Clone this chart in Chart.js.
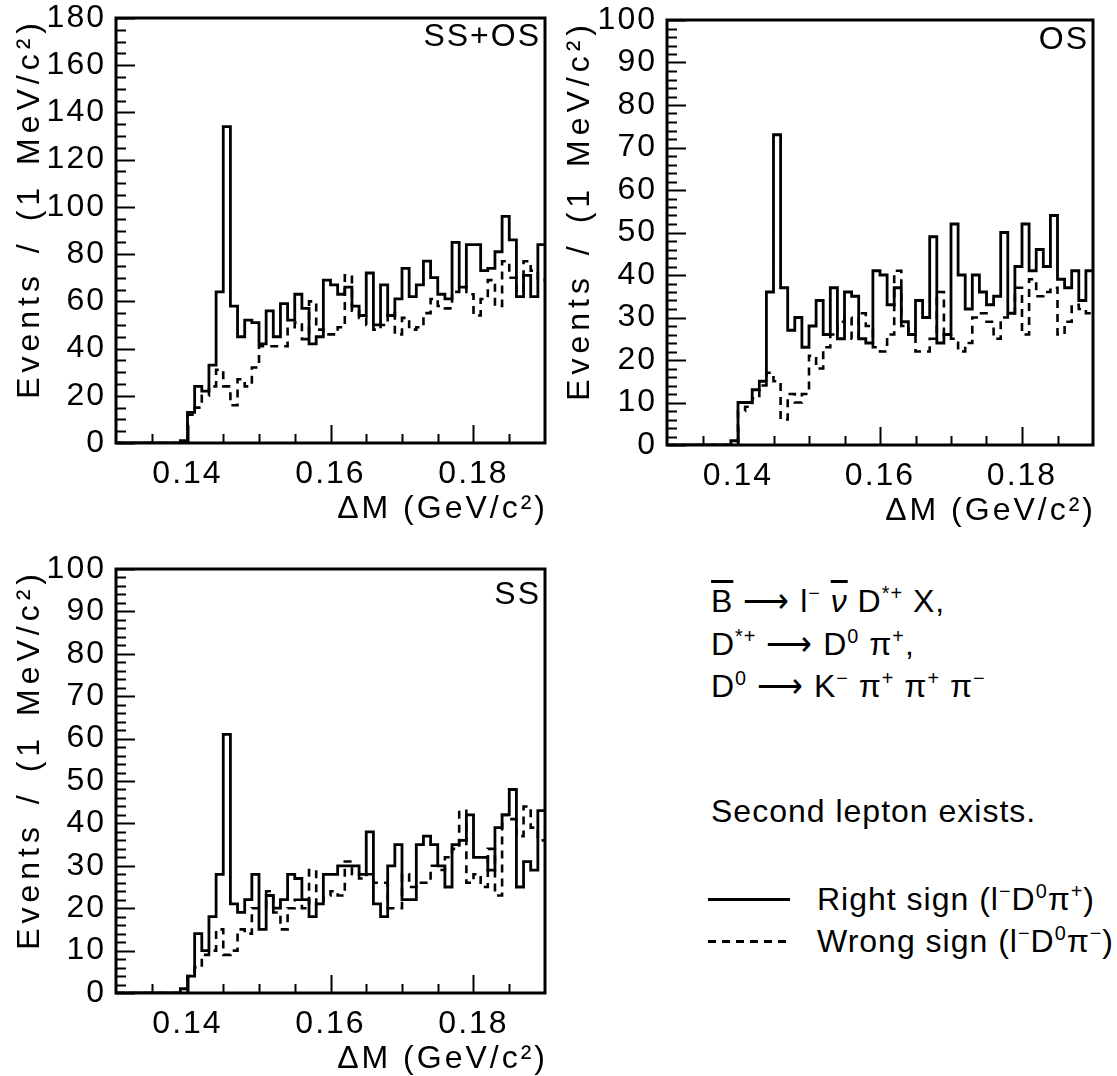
<!DOCTYPE html>
<html>
<head>
<meta charset="utf-8">
<script src="https://cdn.jsdelivr.net/npm/chart.js@4.4.1/dist/chart.umd.min.js"></script>
<style>
  body { margin: 0; background: #fff; width: 1117px; height: 1076px; position: relative; overflow: hidden;
         font-family: "Liberation Sans", Arial, sans-serif; }
  canvas { position: absolute; }
  .txt { position: absolute; font-size: 32px; line-height: 32px; color: #000; white-space: nowrap; letter-spacing: 1px; }
  .txt sup { font-size: 62%; line-height: 0; vertical-align: 0.6em; }
  .bar { text-decoration: overline; }
  .leg { position: absolute; height: 3px; width: 82px; left: 708px; }
</style>
</head>
<body>
<canvas id="c-all" width="560" height="540" style="left:0;top:0"></canvas>
<canvas id="c-os" width="560" height="540" style="left:550px;top:0"></canvas>
<canvas id="c-ss" width="560" height="530" style="left:0;top:550px"></canvas>

<div class="txt" style="left:711px;top:585px"><span class="bar">B</span> &#x27F6; l<sup>&minus;</sup> <i class="bar">&nu;</i> D<sup>*+</sup> X,</div>
<div class="txt" style="left:711px;top:628px">D<sup>*+</sup> &#x27F6; D<sup>0</sup> &pi;<sup>+</sup>,</div>
<div class="txt" style="left:711px;top:670px">D<sup>0</sup> &#x27F6; K<sup>&minus;</sup> &pi;<sup>+</sup> &pi;<sup>+</sup> &pi;<sup>&minus;</sup></div>
<div class="txt" style="left:711px;top:795px">Second lepton exists.</div>
<div class="leg" style="top:898px;background:#000"></div>
<div class="txt" style="left:817px;top:883px">Right sign (l<sup>&minus;</sup>D<sup>0</sup>&pi;<sup>+</sup>)</div>
<div class="leg" style="top:940px;background:repeating-linear-gradient(to right,#000 0 8px,transparent 8px 14px)"></div>
<div class="txt" style="left:817px;top:925px">Wrong sign (l<sup>&minus;</sup>D<sup>0</sup>&pi;<sup>&minus;</sup>)</div>

<script>
// 60 bins of 1 MeV/c^2 from 0.130 to 0.190 GeV/c^2
const xMin = 0.13, xMax = 0.19, binWidth = 0.001;
const xTickLabels = [0.14, 0.16, 0.18];

// SS+OS
const allRight = [0,0,0,0,0,0,0,0,0,1, 13,24,22,33,64,134,58,45,52,51, 42,56,45,59,52,63,57,42,45,69,
                  67,63,66,58,54,72,50,67,54,61, 74,62,67,77,70,63,61,85,66,84, 84,73,74,81,96,86,62,71,62,84];
const allWrong = [0,0,0,0,0,0,0,0,0,0, 12,15,20,24,31,24,16,27,24,32, 41,41,41,41,49,51,44,60,48,46,
                  46,49,71,56,53,50,48,50,55,46, 53,48,49,55,61,58,57,64,66,63, 54,61,69,58,77,70,64,77,73,69];
// OS
const osRight = [0,0,0,0,0,0,0,0,0,1, 10,10,13,15,36,73,37,27,30,23, 28,34,26,37,25,36,35,25,24,41,
                 40,33,37,29,26,34,30,49,24,26, 52,40,32,40,36,33,35,50,31,42, 52,41,46,42,54,39,37,41,34,41];
const osWrong = [0,0,0,0,0,0,0,0,0,0, 8,9,11,14,17,15,6,12,10,12, 21,18,23,26,29,30,25,31,28,23,
                 22,26,41,28,26,22,22,25,36,26, 25,22,24,30,31,29,25,30,31,37, 26,39,35,36,37,26,29,33,32,31];
// SS
const ssRight = [0,0,0,0,0,0,0,0,0,1, 4,14,10,18,28,61,21,19,22,28, 15,23,20,22,28,27,22,18,21,28,
                 28,30,30,30,28,38,21,18,30,35, 22,22,35,37,35,30,25,35,36,42, 32,32,29,39,42,48,25,31,29,43];
const ssWrong = [0,0,0,0,0,0,0,0,0,0, 4,6,9,10,15,9,10,15,14,20, 20,24,19,15,20,22,20,29,21,23,
                 24,23,31,28,27,28,26,26,20,20, 28,25,26,26,30,29,32,34,43,26, 28,25,34,23,42,41,37,44,39,36];

const allYTicks = [0, 20, 40, 60, 80, 100, 120, 140, 160, 180];
const sideYTicks = [0, 10, 20, 30, 40, 50, 60, 70, 80, 90, 100];

const xTitle = 'ΔM (GeV/c²)';
const yTitle = 'Events / (1 MeV/c²)';
const FONT = '32px "Liberation Sans", Arial, sans-serif';

Chart.defaults.font.family = '"Liberation Sans", Arial, sans-serif';
Chart.defaults.color = '#000';

function histPoints(counts) {
  const pts = counts.map((c, i) => ({ x: xMin + i * binWidth, y: c }));
  pts.push({ x: xMin + counts.length * binWidth, y: counts[counts.length - 1] });
  return pts;
}

// frame, inward tick marks, axis titles and panel tag
const frameTicks = {
  id: 'frameTicks',
  beforeDraw(chart) {
    chart.ctx.letterSpacing = '2px';
  },
  afterDraw(chart, args, opts) {
    const { ctx, chartArea: a, scales: { x, y } } = chart;
    ctx.save();
    ctx.strokeStyle = '#000';
    ctx.lineWidth = 2;
    ctx.beginPath();
    for (let v = 0; v <= opts.yMax + 1e-9; v += opts.yMinor) {
      const py = Math.round(y.getPixelForValue(v)) + 0.5;
      const major = Math.abs(v / opts.yMajor - Math.round(v / opts.yMajor)) < 1e-6;
      ctx.moveTo(a.left, py);
      ctx.lineTo(a.left + (major ? 19 : 10), py);
    }
    for (let i = 1; i < 12; i++) {
      const v = xMin + i * 0.005;
      const px = Math.round(x.getPixelForValue(v)) + 0.5;
      const major = i % 4 === 2;
      ctx.moveTo(px, a.bottom);
      ctx.lineTo(px, a.bottom - (major ? 18 : 9));
    }
    ctx.stroke();
    ctx.lineWidth = 3;
    ctx.strokeRect(a.left, a.top, a.right - a.left, a.bottom - a.top);

    ctx.fillStyle = '#000';
    ctx.font = FONT;
    ctx.textAlign = 'right';
    ctx.textBaseline = 'middle';
    ctx.letterSpacing = '2px';
    ctx.fillText(opts.tag, a.right - 4, a.top + opts.tagDy);

    ctx.letterSpacing = '3px';
    ctx.fillText(xTitle, a.right + 3, a.bottom + 66);

    ctx.translate(30, a.top);
    ctx.rotate(-Math.PI / 2);
    ctx.letterSpacing = '5px';
    ctx.wordSpacing = '4px';
    ctx.fillText(yTitle, 0, 0);
    ctx.restore();
  }
};

function makePanel(id, right, wrong, yTicks, yMinor, tag, tagDy, pad) {
  const yMax = yTicks[yTicks.length - 1];
  return new Chart(document.getElementById(id), {
    type: 'line',
    data: {
      datasets: [
        { label: 'Wrong sign', data: histPoints(wrong), borderColor: '#000', borderWidth: 2.6,
          borderDash: [8, 6], stepped: true, pointRadius: 0, fill: false },
        { label: 'Right sign', data: histPoints(right), borderColor: '#000', borderWidth: 2.8,
          stepped: true, pointRadius: 0, fill: false }
      ]
    },
    options: {
      responsive: false,
      animation: false,
      events: [],
      layout: { padding: { left: 0, top: pad.top, right: pad.right, bottom: 0 } },
      plugins: {
        legend: { display: false },
        tooltip: { enabled: false },
        frameTicks: { yMax, yMajor: yTicks[1] - yTicks[0], yMinor, tag, tagDy }
      },
      scales: {
        x: {
          type: 'linear', min: xMin, max: xMax,
          grid: { display: false, drawTicks: false },
          border: { display: false },
          afterBuildTicks: s => { s.ticks = xTickLabels.map(v => ({ value: v })); },
          afterFit: s => { s.height = pad.xh; s.paddingLeft = 0; s.paddingRight = 0; s.paddingTop = 0; s.paddingBottom = 0; },
          ticks: { padding: 12, maxRotation: 0, autoSkip: false, font: { size: 32 },
                   callback: v => v.toFixed(2) }
        },
        y: {
          min: 0, max: yMax,
          grid: { display: false, drawTicks: false },
          border: { display: false },
          afterBuildTicks: s => { s.ticks = yTicks.map(v => ({ value: v })); },
          afterFit: s => { s.width = pad.yw; s.paddingLeft = 0; s.paddingRight = 0; s.paddingTop = 0; s.paddingBottom = 0; },
          ticks: { padding: 10, autoSkip: false, font: { size: 32 } }
        }
      }
    },
    plugins: [frameTicks]
  });
}

makePanel('c-all', allRight, allWrong, allYTicks, 5, 'SS+OS', 19, { top: 18, right: 15, yw: 116, xh: 97 });
makePanel('c-os', osRight, osWrong, sideYTicks, 2, 'OS', 20, { top: 20, right: 17, yw: 117, xh: 95 });
makePanel('c-ss', ssRight, ssWrong, sideYTicks, 2, 'SS', 26, { top: 19, right: 15, yw: 116, xh: 87 });
</script>
</body>
</html>
